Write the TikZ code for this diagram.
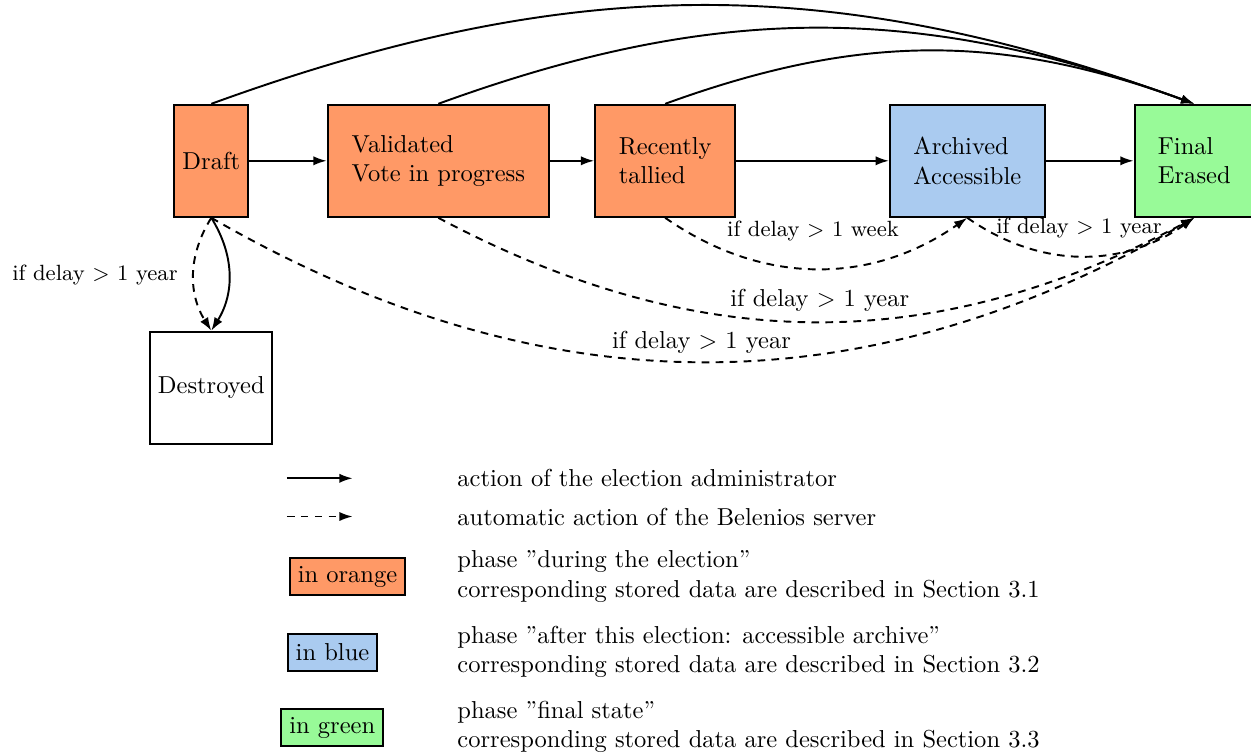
\documentclass[tikz,border=0pt]{standalone}
\usetikzlibrary{arrows.meta}
\definecolor{phaseorange}{RGB}{255,153,102}
\definecolor{phaseblue}{RGB}{170,203,240}
\definecolor{phasegreen}{RGB}{152,250,152}
\begin{document}
\begin{tikzpicture}[x=0.415pt,y=-0.415pt,
  every node/.style={font=\fontsize{10.17pt}{12.2pt}\selectfont},
  state/.style={draw,thick,minimum height=46.5pt,align=left,inner sep=3pt},
  adm/.style={thick,-{Latex[length=5.5pt,width=3.8pt]}},
  autoact/.style={adm,dash pattern=on 3.2pt off 2.6pt},
  lab/.style={font=\fontsize{9.15pt}{11pt}\selectfont,inner sep=0pt},
  biglab/.style={inner sep=0pt},
  legtext/.style={anchor=west,align=left,inner sep=0pt},
  legbox/.style={draw,thick,minimum height=15.2pt,inner sep=3.33pt}]
\useasboundingbox (0,0) rectangle (1251,754);

% states
\node[state,fill=phaseorange,minimum width=30.6pt] (draft) at (211.3,160.8) {Draft};
\node[state,fill=phaseorange,minimum width=91.8pt] (valid) at (438.3,160.8) {Validated\\Vote in progress};
\node[state,fill=phaseorange,minimum width=58.1pt] (recent) at (665.2,160.8) {Recently\\tallied};
\node[state,fill=phaseblue,minimum width=64.2pt] (arch) at (967.3,160.8) {Archived\\Accessible};
\node[state,fill=phasegreen,minimum width=49.5pt] (final) at (1194.3,160.8) {Final\\Erased};
\node[state,minimum width=50.6pt] (destroyed) at (211.3,387.7) {Destroyed};

% administrator actions
\draw[adm] (draft) -- (valid);
\draw[adm] (valid) -- (recent);
\draw[adm] (recent) -- (arch);
\draw[adm] (arch) -- (final);
\draw[adm] (draft.north) to[bend left=20] (final.north);
\draw[adm] (valid.north) to[bend left=20] (final.north);
\draw[adm] (recent.north) to[bend left=20] (final.north);
\draw[adm] (draft.south) to[bend left=32] (destroyed.north);

% automatic actions
\draw[autoact] (draft.south) to[bend right=32] (destroyed.north);
\draw[autoact] (recent.south) to[bend right=35] (arch.south);
\draw[autoact] (arch.south) to[bend right=35] (final.south);
\draw[autoact] (valid.south) to[bend right=28] (final.south);
\draw[autoact] (draft.south) to[bend right=30] (final.south);

% labels
\node[lab] (l1) at (813,231.3) {if delay $>$ 1 week};
\node[lab] (l2) at (1079,228) {if delay $>$ 1 year};
\node[biglab] (l3) at (819.7,300) {if delay $>$ 1 year};
\node[biglab] (l4) at (701.5,342.3) {if delay $>$ 1 year};
\node[lab] (l5) at (95,274.6) {if delay $>$ 1 year};

% legend
\coordinate (s1) at (286.8,478.3);
\coordinate (e1) at (352.7,478.3);
\draw[adm] (s1) -- (e1);
\coordinate (s2) at (286.8,516.5);
\coordinate (e2) at (352.7,516.5);
\draw[autoact] (s2) -- (e2);
\node[legtext] (t1) at (457,478.3) {action of the election administrator};
\node[legtext] (t2) at (457,516.6) {automatic action of the Belenios server};

\node[legbox,fill=phaseorange] (lo) at (347.5,576.8) {in orange};
\node[legtext] (t3) at (457,576.7) {phase ''during the election''\\corresponding stored data are described in Section 3.1};
\node[legbox,fill=phaseblue] (lb) at (332.5,652.5) {in blue};
\node[legtext] (t4) at (457,651.7) {phase ''after this election: accessible archive''\\corresponding stored data are described in Section 3.2};
\node[legbox,fill=phasegreen] (lg) at (332.3,727.5) {in green};
\node[legtext] (t5) at (457,726.7) {phase ''final state''\\corresponding stored data are described in Section 3.3};
\end{tikzpicture}
\end{document}
